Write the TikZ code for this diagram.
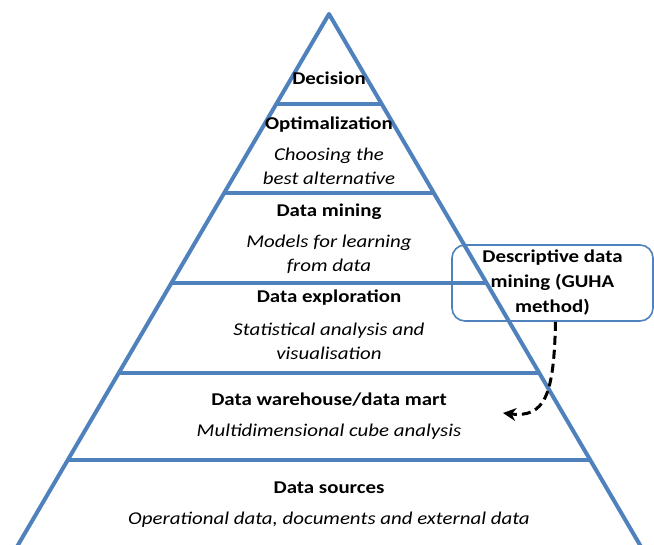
\documentclass[tikz,border=0pt]{standalone}
\usepackage{fontspec}
\setmainfont[FakeStretch=1.16]{Carlito}
\usetikzlibrary{calc,arrows.meta}
\definecolor{pyrblue}{HTML}{4F81BD}
\tikzset{
  edge/.style={draw=pyrblue, line width=4pt, line cap=round, line join=round},
  tier/.style={draw=pyrblue, line width=4pt},
  title/.style={font=\fontsize{18}{21}\selectfont\bfseries, inner sep=0pt, anchor=center},
  desc/.style={font=\fontsize{18}{24}\selectfont\itshape, align=center, inner sep=0pt, anchor=center},
  callout/.style={draw=pyrblue, line width=1.6pt, rounded corners=13pt, minimum width=201pt,
    minimum height=76pt, inner sep=0pt, align=center, font=\fontsize{18}{25}\selectfont\bfseries},
  flow/.style={line width=3pt, dash pattern=on 9pt off 5pt, -{Stealth[length=13pt,width=13pt]}}
}
\begin{document}
\begin{tikzpicture}[x=1pt,y=-1pt]
\useasboundingbox (0,0) rectangle (654,545);
\begin{scope}
\clip (0,0) rectangle (654,545);
% outline of the pyramid
\coordinate (apex) at (329,14);
\coordinate (bl) at (18,545);
\coordinate (br) at (640,545);
\coordinate (blx) at ($(apex)!1.05!(bl)$);
\coordinate (brx) at ($(apex)!1.05!(br)$);
\draw[edge] (blx) -- (apex) -- (brx);
% tier separators
\foreach \t [count=\i] in {0.1695,0.3371,0.5066,0.6761,0.8399}{
  \coordinate (l\i) at ($(apex)!\t!(bl)$);
  \coordinate (r\i) at ($(apex)!\t!(br)$);
  \draw[tier] (l\i) -- (r\i);
}
\end{scope}

% tier labels
\node[title] (dec) at (329,78) {Decision};
\node[title] (opt) at (329,125) {Optimalization};
\node[desc] (optd) at (329,166.5) {Choosing the\\best alternative};
\node[title] (dmin) at (329,212) {Data mining};
\node[desc] (dmind) at (329,254.5) {Models for learning\\from data};
\node[title] (dexp) at (329,298) {Data exploration};
\node[desc] (dexpd) at (329,341.5) {Statistical analysis and\\visualisation};
\node[title] (dwh) at (329,400) {Data warehouse/data mart};
\node[desc] (dwhd) at (329,432) {Multidimensional cube analysis};
\node[title] (dsrc) at (329,488) {Data sources};
\node[desc] (dsrcd) at (329,520) {Operational data, documents and external data};

% callout and its link to the warehouse tier
\node[callout] (guha) at (552.5,283) {Descriptive data\\mining (GUHA\\method)};
\coordinate (tip) at (503,413);
\draw[flow] ([xshift=3pt]guha.south) .. controls (554,395) and (545,418) .. (tip);
\end{tikzpicture}
\end{document}
